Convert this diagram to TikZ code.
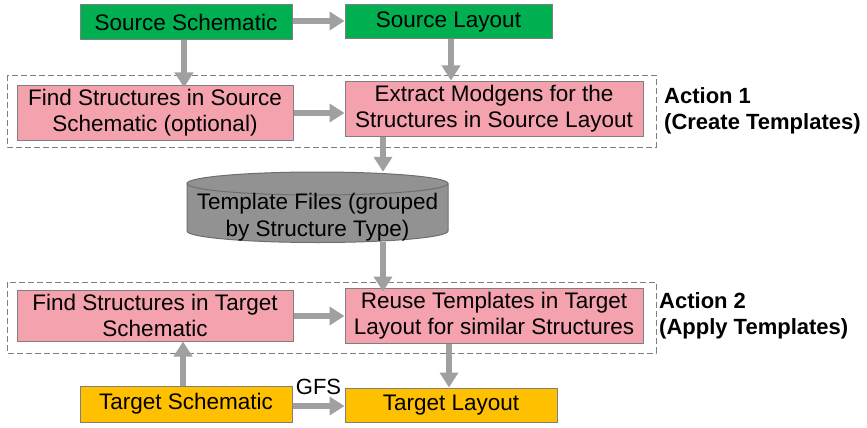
\documentclass[tikz,border=0pt]{standalone}
\usepackage{fontspec}
\setmainfont{Liberation Sans}
\usetikzlibrary{arrows.meta}
\definecolor{grn}{HTML}{00B050}
\definecolor{pnk}{HTML}{F4A2AD}
\definecolor{org}{HTML}{FFC000}
\definecolor{bord}{HTML}{7F7F7F}
\definecolor{arrc}{HTML}{A0A0A0}
\definecolor{cylf}{HTML}{929292}
\definecolor{cyld}{HTML}{6E6E6E}
\tikzset{
  box/.style={draw=bord, line width=1pt, inner sep=0pt, align=center,
    font=\fontsize{22.5}{26}\selectfont},
  arr/.style={draw=arrc, line width=5.5pt, -{Triangle[width=18pt,length=15pt]}},
  dbox/.style={draw=bord, line width=1pt, dash pattern=on 6pt off 3pt},
  lbl/.style={font=\fontsize{22}{26}\selectfont\bfseries, align=left, anchor=west, inner sep=0pt},
}
\begin{document}
\begin{tikzpicture}[x=1pt,y=-1pt]
\useasboundingbox (0,0) rectangle (867,428);
% dashed group boxes
\draw[dbox] (7,75) rectangle (656,147);
\draw[dbox] (7,282) rectangle (656,353);
% nodes
\node[box, fill=grn, minimum width=212pt, minimum height=35pt] (ss) at (186,22.5) {Source Schematic};
\node[box, fill=grn, minimum width=207pt, minimum height=34pt] (sl) at (448.5,22) {Source Layout};
\node[box, fill=pnk, minimum width=276pt, minimum height=55pt] (f1) at (155,112.5) {Find Structures in Source\\Schematic (optional)};
\node[box, fill=pnk, minimum width=298pt, minimum height=55pt] (ex) at (494,108.5) {Extract Modgens for the\\Structures in Source Layout};
\node[box, fill=pnk, minimum width=276pt, minimum height=51pt] (f2) at (155,315.5) {Find Structures in Target\\Schematic};
\node[box, fill=pnk, minimum width=298pt, minimum height=55pt] (ru) at (494,315.5) {Reuse Templates in Target\\Layout for similar Structures};
\node[box, fill=org, minimum width=212pt, minimum height=36pt] (ts) at (186,404) {Target Schematic};
\node[box, fill=org, minimum width=212pt, minimum height=34pt] (tl) at (451,405) {Target Layout};
% cylinder
\fill[cylf] (187,183.5) -- (187,231) arc[start angle=180,end angle=0,x radius=130.5,y radius=11.5] -- (448,183.5) -- cycle;
\draw[cyld, line width=1pt] (187,183.5) -- (187,231) arc[start angle=180,end angle=0,x radius=130.5,y radius=11.5] -- (448,183.5);
\draw[cyld, fill=cylf, line width=1pt] (317.5,183.5) ellipse[x radius=130.5, y radius=11.5];
\node[inner sep=0pt, minimum width=261pt, minimum height=70pt] (cyl) at (317.5,207) {};
\node[align=center, inner sep=0pt, font=\fontsize{22.5}{27}\selectfont] (cyltxt) at (317.5,217) {Template Files (grouped\\by Structure Type)};
% labels
\node[lbl] (a1) at (664,111) {Action 1\\(Create Templates)};
\node[lbl] (a2) at (659,316) {Action 2\\(Apply Templates)};
% connectors
\coordinate (c1) at (383,0);
\coordinate (c2) at (184,0);
\coordinate (c3) at (451,0);
\coordinate (c4) at (449,0);
\coordinate (c5) at (183,0);
\draw[arr] (ss.east |- 0,21) -- (sl.west |- 0,21);
\draw[arr] (ss.south -| c2) -- ([yshift=-3pt]f1.north -| c2);
\draw[arr] (sl.south -| c3) -- (ex.north -| c3);
\draw[arr] (f1.east |- 0,113) -- (ex.west |- 0,113);
\draw[arr] (ex.south -| c1) -- (cyl.north -| c1);
\draw[arr] (cyl.south -| c1) -- ([yshift=-4pt]ru.north -| c1);
\draw[arr] (f2.east |- 0,316) -- (ru.west |- 0,316);
\draw[arr] (ts.north -| c5) -- (f2.south -| c5);
\draw[arr] (ru.south -| c4) -- (tl.north -| c4);
\draw[arr] (ts.east |- 0,406) -- node[above=9pt, font=\fontsize{22}{26}\selectfont, inner sep=0pt] (gfs) {GFS} (tl.west |- 0,406);
\end{tikzpicture}
\end{document}
